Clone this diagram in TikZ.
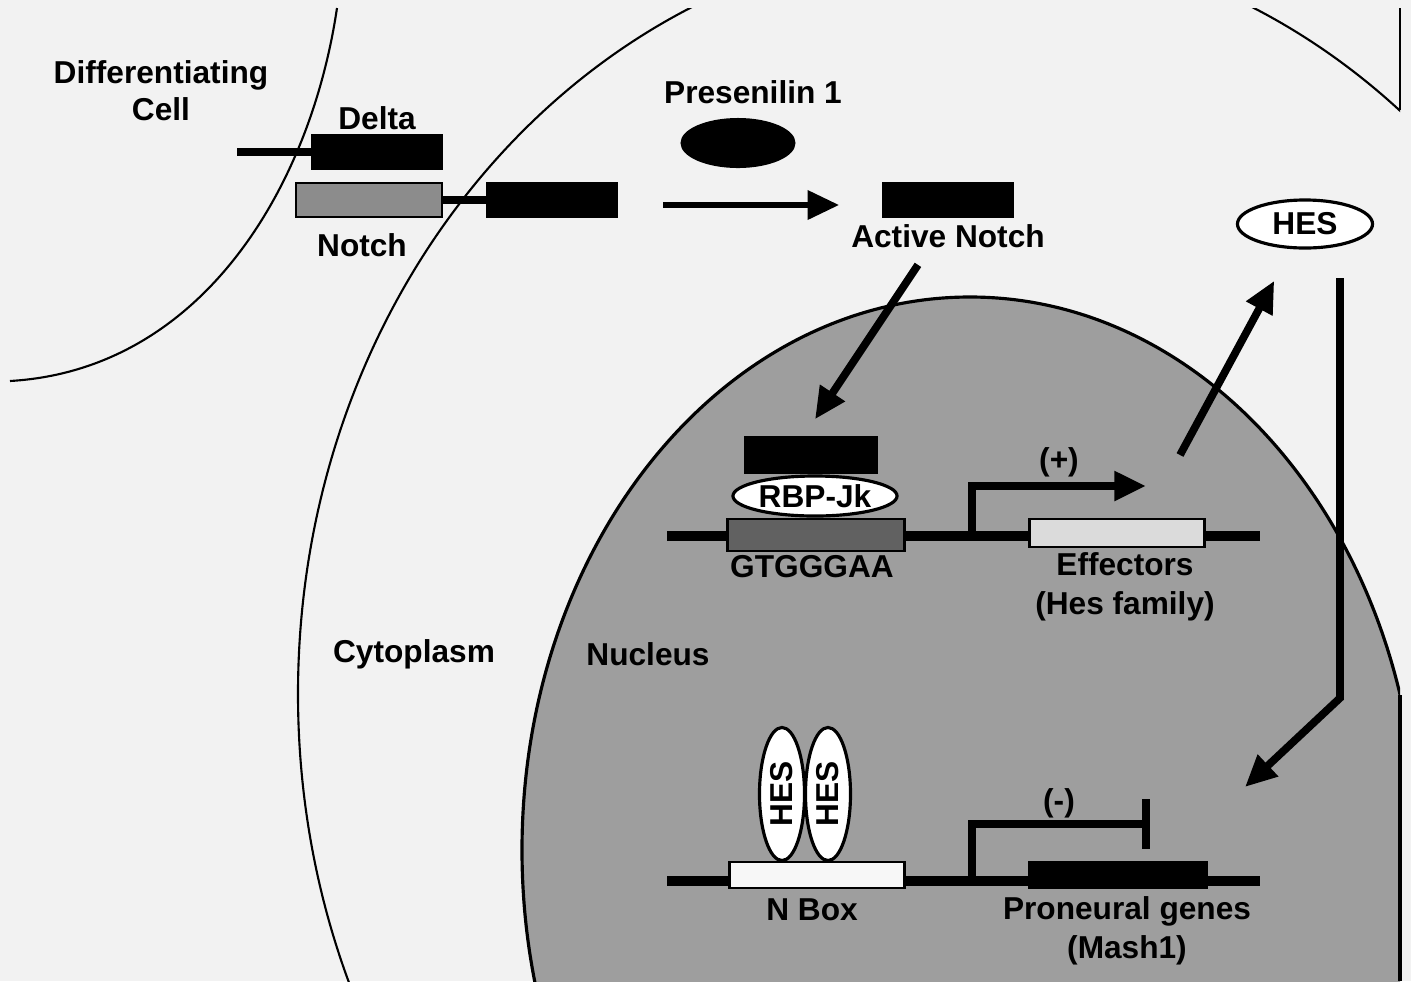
\documentclass[tikz,border=0pt]{standalone}
\usepackage{fontspec}
\setmainfont{Liberation Sans}
\usetikzlibrary{arrows.meta, positioning, shapes}

\begin{document}
\begin{tikzpicture}[
    x=0.01cm, y=-0.01cm,
    % membranes and DNA
    membrane/.style={draw=black, line width=0.6pt},
    dna/.style={line width=2.8pt},
    stalk/.style={line width=2pt},
    % boxes and ovals
    blackbox/.style={draw=black, fill=black, inner sep=0pt},
    greybox/.style={draw=black, line width=0.8pt, fill=black!45, inner sep=0pt},
    lightbox/.style={draw=black, line width=0.8pt, fill=black!14, inner sep=0pt},
    oval/.style={ellipse, draw=black, line width=0.9pt, fill=white, inner sep=0pt, font=\bfseries\fontsize{9}{10.5}\selectfont},
    lbl/.style={font=\bfseries\fontsize{9}{10.5}\selectfont, inner sep=1pt, align=center},
    lbltwo/.style={lbl, font=\bfseries\fontsize{9}{11.2}\selectfont},
    bigarrow/.style={line width=2.2pt, -{Triangle[length=9pt, width=8pt]}},
]

\useasboundingbox (0,0) rectangle (1411,981);
\fill[black!5] (0,0) rectangle (1411,981);

% signalling cell and nucleus
\begin{scope}
  \clip (0,8) rectangle (1400,981);
  \draw[membrane, fill=black!38, line width=0.9pt] (970,850) ellipse [x radius=448, y radius=553];
  \draw[membrane] (972,694) ellipse [x radius=674, y radius=755];
\end{scope}
\draw[membrane] (1400,8) -- (1400,110);
\draw[membrane, line width=0.9pt] (1400,695) -- (1400,981);

% differentiating cell
\draw[membrane] (337,8) .. controls (310,190) and (200,370) .. (10,381);
\node[lbl] (diffLbl) at (161,91) {Differentiating\\Cell};

% Delta / Notch at the membrane
\node[lbl] (deltaLbl) at (377,118) {Delta};
\node[blackbox, minimum width=1.30cm, minimum height=0.35cm] (delta) at (377,152) {};
\coordinate (deltaTail) at (237,152);
\draw[stalk] (deltaTail) -- (delta);

\node[greybox, minimum width=1.46cm, minimum height=0.34cm] (notchExt) at (369,200) {};
\node[blackbox, minimum width=1.31cm, minimum height=0.35cm] (notchIC) at (552,200) {};
\draw[stalk] (notchExt) -- (notchIC);
\node[lbl] (notchLbl) at (362,245) {Notch};

\node[lbl] (psLbl) at (753,92) {Presenilin 1};
\node[ellipse, fill=black, minimum width=1.15cm, minimum height=0.50cm, inner sep=0pt] (ps1) at (738,143) {};

\node[blackbox, minimum width=1.30cm, minimum height=0.34cm] (actN) at (948,200) {};
\node[lbl] (actLbl) at (948,236) {Active Notch};
\draw[bigarrow, line width=1.8pt, shorten <=0.45cm, shorten >=0.43cm] ([yshift=-0.05cm]notchIC.east) -- ([yshift=-0.05cm]actN.west);

\node[oval, minimum width=1.35cm, minimum height=0.48cm] (hesOut) at (1305,224) {HES};

\node[lbl] (cytoLbl) at (414,654) {Cytoplasm};
\node[lbl] (nucLbl) at (648,654) {Nucleus};

% upper gene
\coordinate (dnaUpL) at (667,536);
\coordinate (dnaUpR) at (1260,536);
\draw[dna] (dnaUpL) -- (dnaUpR);
\node[greybox, fill=black!62, minimum width=1.77cm, minimum height=0.32cm] (gtg) at (816,535) {};
\node[lightbox, minimum width=1.75cm, minimum height=0.28cm] (effBox) at (1117,533) {};
\node[oval, minimum width=1.64cm, minimum height=0.40cm] (rbp) at (815,496) {RBP-Jk};
\node[blackbox, minimum width=1.32cm, minimum height=0.36cm] (nicd) at (811,455) {};
\node[lbl] (gtgLbl) at (812,567) {GTGGGAA};
\node[lbltwo] (effLbl) at (1125,587) {Effectors\\(Hes family)};
\node[lbl] (plusLbl) at (1059,462) {(+)};
\coordinate (tssUp) at (972,536);
\coordinate (tssUpEnd) at (1146,486);
\draw[bigarrow] (tssUp) |- (tssUpEnd);

% lower gene
\coordinate (dnaLoL) at (667,881);
\coordinate (dnaLoR) at (1260,881);
\draw[dna] (dnaLoL) -- (dnaLoR);
\node[lightbox, fill=black!3, minimum width=1.75cm, minimum height=0.26cm] (nbox) at (817,875) {};
\node[blackbox, minimum width=1.78cm, minimum height=0.27cm] (proBox) at (1118,875) {};
\node[oval, rotate=90, minimum width=1.33cm, minimum height=0.45cm] (hesA) at (782,794) {HES};
\node[oval, rotate=90, minimum width=1.33cm, minimum height=0.45cm] (hesB) at (828,794) {HES};
\node[lbl] (nboxLbl) at (812,910) {N Box};
\node[lbltwo] (proLbl) at (1127,931) {Proneural genes\\(Mash1)};
\node[lbl] (minusLbl) at (1059,803) {(-)};
\coordinate (tssLo) at (972,881);
\coordinate (tssLoEnd) at (1150,824);
\draw[line width=2.2pt, -{Bar[width=14pt]}] (tssLo) |- (tssLoEnd);

% signalling arrows
\draw[bigarrow] ([xshift=-0.3cm, yshift=-0.13cm]actLbl.south) -- ([xshift=0.04cm, yshift=0.17cm]nicd.north);
\coordinate (hesFrom) at (1180,455);
\draw[bigarrow, shorten >=0.36cm] (hesFrom) -- (hesOut);
\coordinate (hesDown) at (1340,278);
\coordinate (hesBend) at (1340,698);
\coordinate (hesTo) at (1245,787);
\draw[bigarrow] (hesDown) -- (hesBend) -- (hesTo);
\end{tikzpicture}
\end{document}
